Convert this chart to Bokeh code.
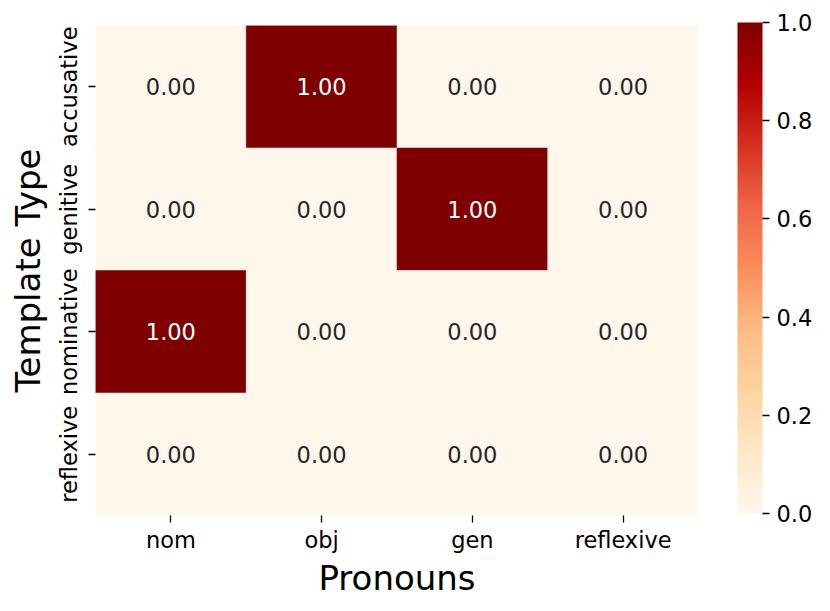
import numpy as np
from bokeh.plotting import figure
from bokeh.models import (ColumnDataSource, LinearColorMapper, ColorBar,
                          FixedTicker, PrintfTickFormatter)
from bokeh.palettes import OrRd9
from bokeh.embed import file_html
from bokeh.resources import INLINE
from bokeh.core.properties import value

# ---- data ----
pronouns = ["nom", "obj", "gen", "reflexive"]
templates = ["accusative", "genitive", "nominative", "reflexive"]
accusative_vals = [0.0, 1.0, 0.0, 0.0]
genitive_vals = [0.0, 0.0, 1.0, 0.0]
nominative_vals = [1.0, 0.0, 0.0, 0.0]
reflexive_vals = [0.0, 0.0, 0.0, 0.0]
cbar_ticks = [0.0, 0.2, 0.4, 0.6, 0.8, 1.0]

rows = {
    "accusative": accusative_vals,
    "genitive": genitive_vals,
    "nominative": nominative_vals,
    "reflexive": reflexive_vals,
}

# ---- palette (OrRd, light -> dark, 256 steps) ----
base = list(reversed(OrRd9))
def h2r(h):
    h = h.lstrip("#")
    return [int(h[i:i + 2], 16) for i in (0, 2, 4)]
rgb = np.array([h2r(c) for c in base], dtype=float)
stops = np.linspace(0, 1, len(base))
tt = np.linspace(0, 1, 256)
palette = []
for t in tt:
    r = np.interp(t, stops, rgb[:, 0])
    g = np.interp(t, stops, rgb[:, 1])
    b = np.interp(t, stops, rgb[:, 2])
    palette.append("#%02x%02x%02x" % (int(round(r)), int(round(g)), int(round(b))))

mapper = LinearColorMapper(palette=palette, low=0.0, high=1.0)

xs, ys, vs, labels, tcolors = [], [], [], [], []
for tname in templates:
    for pname, v in zip(pronouns, rows[tname]):
        xs.append(pname)
        ys.append(tname)
        vs.append(v)
        labels.append("%.2f" % v)
        tcolors.append("#ffffff" if v > 0.5 else "#262626")
src = ColumnDataSource(dict(x=xs, y=ys, v=vs, label=labels, tc=tcolors))

FONT = "DejaVu Sans"
SMALL = "22.5px"
BIG = "34px"

p = figure(x_range=pronouns, y_range=list(reversed(templates)),
           frame_width=603, frame_height=490,
           min_border_left=95, min_border_top=25, min_border_bottom=80,
           min_border_right=10,
           output_backend="svg", toolbar_location=None)

p.rect(x="x", y="y", width=1, height=1, source=src,
       fill_color={"field": "v", "transform": mapper},
       line_color={"field": "v", "transform": mapper}, line_width=0.5)

p.text(x="x", y="y", text="label", source=src, text_color="tc",
       text_align="center", text_baseline="middle",
       text_font=value(FONT), text_font_size=SMALL)

p.grid.grid_line_color = None
p.outline_line_color = None
for ax in (p.xaxis[0], p.yaxis[0]):
    ax.axis_line_color = None
    ax.major_tick_in = 0
    ax.major_tick_out = 7
    ax.major_tick_line_color = "black"
    ax.major_tick_line_width = 1.3
    ax.major_label_text_font = FONT
    ax.major_label_text_font_size = SMALL
    ax.major_label_text_color = "black"
    ax.axis_label_text_font = FONT
    ax.axis_label_text_font_size = BIG
    ax.axis_label_text_font_style = "normal"
    ax.axis_label_text_color = "black"

p.xaxis.axis_label = "Pronouns"
p.xaxis.major_label_standoff = 4
p.xaxis.axis_label_standoff = 2

p.yaxis.axis_label = "Template Type"
p.yaxis.major_label_orientation = "vertical"
p.yaxis.major_label_standoff = 7
p.yaxis.axis_label_standoff = 5

cb = ColorBar(color_mapper=mapper, width=25, height=491,
              ticker=FixedTicker(ticks=cbar_ticks),
              formatter=PrintfTickFormatter(format="%.1f"),
              major_tick_in=0, major_tick_out=7,
              major_tick_line_color="black", major_tick_line_width=1.3,
              major_label_text_font=FONT, major_label_text_font_size=SMALL,
              major_label_text_color="black", label_standoff=7,
              bar_line_color=None, border_line_color=None,
              background_fill_alpha=0.0, padding=0, margin=0,
              location=(39, 2))
p.add_layout(cb, "right")

open("out.html", "w").write(file_html(p, INLINE))
